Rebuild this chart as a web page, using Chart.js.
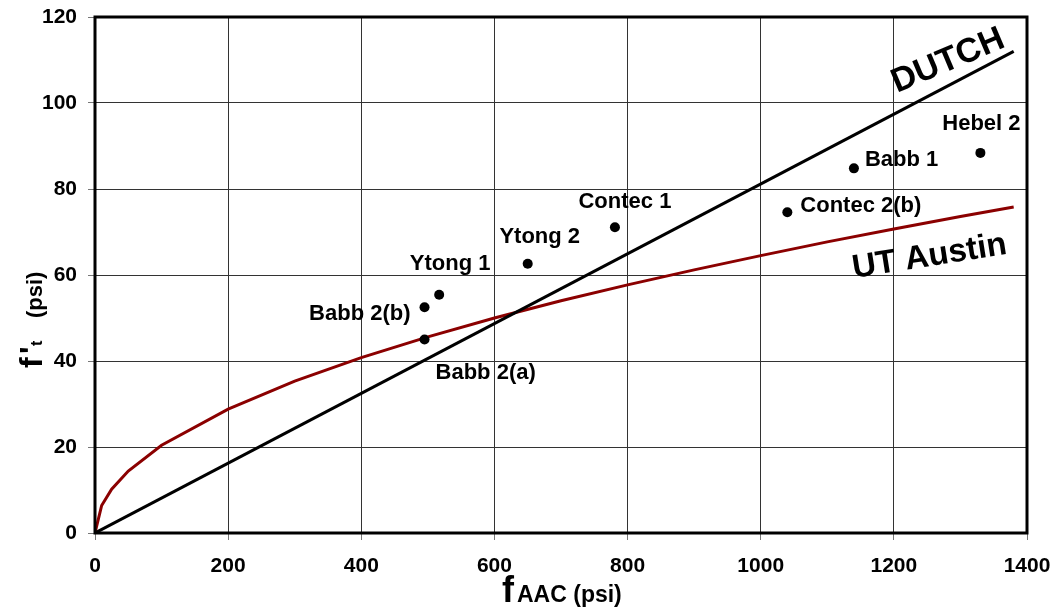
<!DOCTYPE html>
<html>
<head>
<meta charset="utf-8">
<script src="https://cdn.jsdelivr.net/npm/chart.js@4.4.1/dist/chart.umd.min.js"></script>
<style>
  html, body { margin: 0; padding: 0; background: #ffffff; }
  #wrap { width: 1056px; height: 616px; }
</style>
</head>
<body>
<div id="wrap"><canvas id="chart" width="1056" height="616"></canvas></div>
<script>
// Measured specimens: compressive strength f_AAC vs splitting tensile strength f't (psi)
const specimenLabels = ['Babb 2(a)', 'Babb 2(b)', 'Ytong 1', 'Ytong 2', 'Contec 1', 'Contec 2(b)', 'Babb 1', 'Hebel 2'];
const specimenFaac   = [495, 495, 517, 650, 781, 1040, 1140, 1330];
const specimenFt     = [45.0, 52.5, 55.4, 62.6, 71.1, 74.6, 84.8, 88.4];

// DUTCH design relation (straight line)
const dutchFaac = [0, 1380];
const dutchFt   = [0, 112];

// UT Austin relation
const utFaac = [0, 10, 25, 50, 100, 200, 300, 400, 500, 600, 700, 800, 900, 1000, 1100, 1200, 1300, 1380];
const utFt   = [0, 6.4, 10.2, 14.4, 20.4, 28.8, 35.3, 40.8, 45.6, 50.0, 54.0, 57.7, 61.2, 64.5, 67.7, 70.7, 73.6, 75.8];

// Axis ticks
const xTicks = [0, 200, 400, 600, 800, 1000, 1200, 1400];
const yTicks = [0, 20, 40, 60, 80, 100, 120];

// Where each specimen name sits relative to its marker (pixels)
const labelPlacement = [
  { dx: 11,  dy: 39,  align: 'left'   },
  { dx: -14, dy: 13,  align: 'right'  },
  { dx: 11,  dy: -25, align: 'center' },
  { dx: 12,  dy: -21, align: 'center' },
  { dx: 10,  dy: -19, align: 'center' },
  { dx: 13,  dy: 0,   align: 'left'   },
  { dx: 11,  dy: -2,  align: 'left'   },
  { dx: 1,   dy: -23, align: 'center' }
];

const FONT = "'Liberation Sans', Arial, Helvetica, sans-serif";
const pairs = (xs, ys) => xs.map((x, i) => ({ x: x, y: ys[i] }));

// keep tick labels from pushing the plot area inward
const noLabelPadding = s => { s.paddingTop = 0; s.paddingBottom = 0; s.paddingLeft = 0; s.paddingRight = 0; };

const annotations = {
  id: 'annotations',
  afterDraw(chart) {
    const { ctx, chartArea: a, scales: { x, y } } = chart;
    ctx.save();
    ctx.fillStyle = '#000';

    // specimen names
    ctx.font = 'bold 22px ' + FONT;
    ctx.textBaseline = 'alphabetic';
    specimenLabels.forEach((name, i) => {
      const p = labelPlacement[i];
      ctx.textAlign = p.align;
      ctx.fillText(name, x.getPixelForValue(specimenFaac[i]) + p.dx, y.getPixelForValue(specimenFt[i]) + p.dy);
    });

    // curve names
    ctx.textAlign = 'left';
    ctx.save();
    ctx.translate(897, 93);
    ctx.rotate(-23 * Math.PI / 180);
    ctx.font = 'bold 34px ' + FONT;
    ctx.fillText('DUTCH', 0, 0);
    ctx.restore();

    ctx.save();
    ctx.translate(854, 278);
    ctx.rotate(-9 * Math.PI / 180);
    ctx.font = 'bold 33px ' + FONT;
    ctx.fillText('UT Austin', 0, 0);
    ctx.restore();

    // x-axis title: f with subscript AAC
    ctx.font = 'bold 36px ' + FONT;
    ctx.fillText('f', 502, 602);
    ctx.font = 'bold 23px ' + FONT;
    ctx.fillText('AAC (psi)', 517, 602);

    // y-axis title: f't (psi), rotated
    ctx.save();
    ctx.translate(42, 368);
    ctx.rotate(-Math.PI / 2);
    ctx.font = 'bold 32px ' + FONT;
    ctx.fillText('f', 0, 0);
    ctx.fillText("'", 14, 0);
    ctx.font = 'bold 16px ' + FONT;
    ctx.fillText('t', 22, 0);
    ctx.font = 'bold 22px ' + FONT;
    ctx.fillText('(psi)', 50, 0);
    ctx.restore();

    // plot frame
    ctx.strokeStyle = '#000';
    ctx.lineWidth = 3;
    ctx.strokeRect(a.left, a.top, a.right - a.left, a.bottom - a.top);
    ctx.restore();
  }
};

new Chart(document.getElementById('chart'), {
  type: 'scatter',
  data: {
    datasets: [
      {
        label: 'UT Austin',
        data: pairs(utFaac, utFt),
        showLine: true,
        borderColor: '#8b0000',
        borderWidth: 3,
        pointRadius: 0,
        tension: 0,
        order: 3
      },
      {
        label: 'DUTCH',
        data: pairs(dutchFaac, dutchFt),
        showLine: true,
        borderColor: '#000000',
        borderWidth: 3,
        pointRadius: 0,
        order: 2
      },
      {
        label: 'Specimens',
        data: pairs(specimenFaac, specimenFt),
        showLine: false,
        pointRadius: 5,
        pointBackgroundColor: '#000000',
        pointBorderColor: '#000000',
        pointBorderWidth: 0,
        order: 1
      }
    ]
  },
  options: {
    responsive: false,
    animation: false,
    events: [],
    layout: { padding: { left: 0, top: 17, right: 29, bottom: 0 } },
    plugins: {
      legend: { display: false },
      tooltip: { enabled: false },
      title: { display: false }
    },
    scales: {
      x: {
        type: 'linear',
        min: 0,
        max: 1400,
        afterFit(s) { s.height = 83; noLabelPadding(s); },
        afterBuildTicks(s) { s.ticks = xTicks.map(v => ({ value: v })); },
        grid: { color: '#333333', lineWidth: 1, tickLength: 7, tickColor: '#777777', drawTicks: true },
        border: { display: false },
        ticks: {
          color: '#000',
          padding: 14,
          maxRotation: 0,
          callback: v => String(v),
          font: { family: FONT, size: 21, weight: 'bold' }
        }
      },
      y: {
        type: 'linear',
        min: 0,
        max: 120,
        afterFit(s) { s.width = 95; noLabelPadding(s); },
        afterBuildTicks(s) { s.ticks = yTicks.map(v => ({ value: v })); },
        grid: { color: '#333333', lineWidth: 1, tickLength: 7, tickColor: '#777777', drawTicks: true },
        border: { display: false },
        ticks: {
          color: '#000',
          padding: 11,
          callback: v => String(v),
          font: { family: FONT, size: 21, weight: 'bold' }
        }
      }
    }
  },
  plugins: [annotations]
});
</script>
</body>
</html>
